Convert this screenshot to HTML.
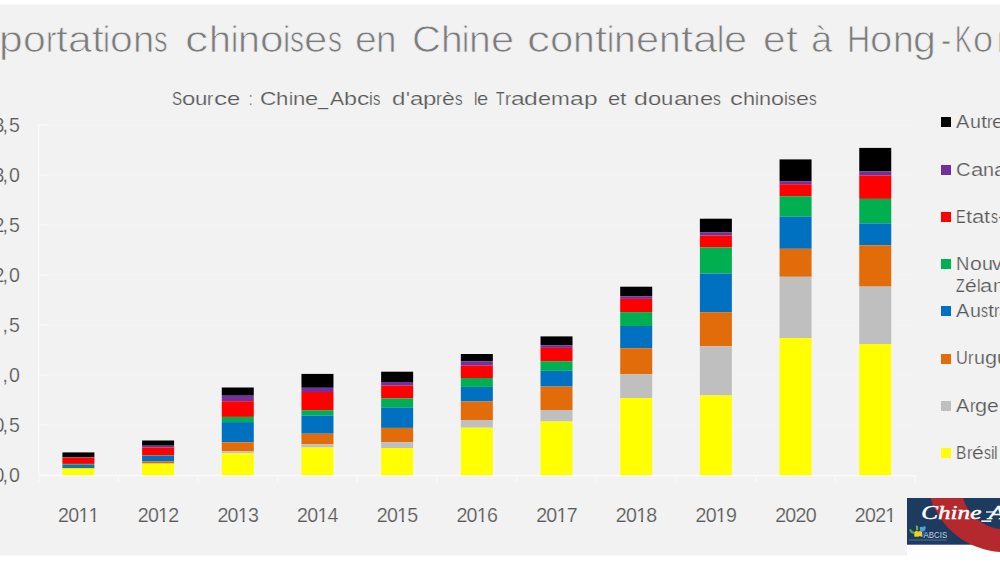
<!DOCTYPE html>
<html><head><meta charset="utf-8"><title>chart</title>
<style>
html,body{margin:0;padding:0;}
body{width:1000px;height:562px;overflow:hidden;background:#ffffff;position:relative;font-family:"Liberation Sans",sans-serif;}
.w{position:absolute;white-space:pre;font-family:"Liberation Sans",sans-serif;height:1em;width:0;}
.w i{position:absolute;top:0;font-style:normal;display:block;transform-origin:0 0;white-space:pre;}
.w i.one{clip-path:polygon(0 0,100% 0,100% 0.69em,0.346em 0.69em,0.346em 1em,0.246em 1em,0.246em 0.69em,0 0.69em);}
.sw{position:absolute;width:9.5px;height:10px;}
#chart{position:absolute;left:0;top:0;}
#wh{position:absolute;left:906.6px;top:544px;width:94px;height:18px;background:#fff;}
#logo{position:absolute;left:907px;top:498px;width:93px;height:64px;overflow:hidden;}
</style></head><body>
<svg id="chart" width="1000" height="562" viewBox="0 0 1000 562">
<rect x="0" y="4.6" width="1000" height="550.8" fill="#f2f2f2"/>
<rect x="38.7" y="124.5" width="876.3" height="1" fill="#f4f4f4"/>
<rect x="38.7" y="124.4" width="9" height="1.2" fill="#fbfbfb"/>
<rect x="38.7" y="174.5" width="876.3" height="1" fill="#f4f4f4"/>
<rect x="38.7" y="174.4" width="9" height="1.2" fill="#fbfbfb"/>
<rect x="38.7" y="224.5" width="876.3" height="1" fill="#f4f4f4"/>
<rect x="38.7" y="224.4" width="9" height="1.2" fill="#fbfbfb"/>
<rect x="38.7" y="274.5" width="876.3" height="1" fill="#f4f4f4"/>
<rect x="38.7" y="274.4" width="9" height="1.2" fill="#fbfbfb"/>
<rect x="38.7" y="324.5" width="876.3" height="1" fill="#f4f4f4"/>
<rect x="38.7" y="324.4" width="9" height="1.2" fill="#fbfbfb"/>
<rect x="38.7" y="374.5" width="876.3" height="1" fill="#f4f4f4"/>
<rect x="38.7" y="374.4" width="9" height="1.2" fill="#fbfbfb"/>
<rect x="38.7" y="424.5" width="876.3" height="1" fill="#f4f4f4"/>
<rect x="38.7" y="424.4" width="9" height="1.2" fill="#fbfbfb"/>
<rect x="38.7" y="474.5" width="876.3" height="1" fill="#f4f4f4"/>
<rect x="38.7" y="474.4" width="9" height="1.2" fill="#fbfbfb"/>
<rect x="38.1" y="125" width="1.3" height="350" fill="#fbfbfb"/>
<rect x="38.7" y="475.1" width="876.9" height="1.2" fill="#fcfcfc"/>
<rect x="38.10" y="475.8" width="1.2" height="6.4" fill="#f9f9f9"/>
<rect x="117.76" y="475.8" width="1.2" height="6.4" fill="#f9f9f9"/>
<rect x="197.42" y="475.8" width="1.2" height="6.4" fill="#f9f9f9"/>
<rect x="277.08" y="475.8" width="1.2" height="6.4" fill="#f9f9f9"/>
<rect x="356.74" y="475.8" width="1.2" height="6.4" fill="#f9f9f9"/>
<rect x="436.40" y="475.8" width="1.2" height="6.4" fill="#f9f9f9"/>
<rect x="516.06" y="475.8" width="1.2" height="6.4" fill="#f9f9f9"/>
<rect x="595.72" y="475.8" width="1.2" height="6.4" fill="#f9f9f9"/>
<rect x="675.38" y="475.8" width="1.2" height="6.4" fill="#f9f9f9"/>
<rect x="755.04" y="475.8" width="1.2" height="6.4" fill="#f9f9f9"/>
<rect x="834.70" y="475.8" width="1.2" height="6.4" fill="#f9f9f9"/>
<rect x="914.36" y="475.8" width="1.2" height="6.4" fill="#f9f9f9"/>
<rect x="62.40" y="452.40" width="32" height="4.90" fill="#000000"/>
<rect x="62.40" y="457.30" width="32" height="0.40" fill="#7030a0"/>
<rect x="62.40" y="457.70" width="32" height="6.20" fill="#ff0000"/>
<rect x="62.40" y="463.90" width="32" height="0.60" fill="#00b050"/>
<rect x="62.40" y="464.50" width="32" height="3.50" fill="#0b78a8"/>
<rect x="62.40" y="468.00" width="32" height="0.50" fill="#e36c0a"/>
<rect x="62.40" y="468.50" width="32" height="6.70" fill="#ffff00"/>
<rect x="142.09" y="440.50" width="32" height="5.20" fill="#000000"/>
<rect x="142.09" y="445.70" width="32" height="1.80" fill="#7030a0"/>
<rect x="142.09" y="447.50" width="32" height="8.00" fill="#ff0000"/>
<rect x="142.09" y="455.50" width="32" height="0.30" fill="#00b050"/>
<rect x="142.09" y="455.80" width="32" height="5.70" fill="#0070c0"/>
<rect x="142.09" y="461.50" width="32" height="2.10" fill="#e36c0a"/>
<rect x="142.09" y="463.60" width="32" height="11.60" fill="#ffff00"/>
<rect x="221.77" y="387.50" width="32" height="8.20" fill="#000000"/>
<rect x="221.77" y="395.70" width="32" height="5.50" fill="#7030a0"/>
<rect x="221.77" y="401.20" width="32" height="15.70" fill="#ff0000"/>
<rect x="221.77" y="416.90" width="32" height="5.20" fill="#00b050"/>
<rect x="221.77" y="422.10" width="32" height="20.20" fill="#0070c0"/>
<rect x="221.77" y="442.30" width="32" height="8.90" fill="#e36c0a"/>
<rect x="221.77" y="451.20" width="32" height="2.10" fill="#bfbfbf"/>
<rect x="221.77" y="453.30" width="32" height="21.90" fill="#ffff00"/>
<rect x="301.46" y="373.90" width="32" height="13.90" fill="#000000"/>
<rect x="301.46" y="387.80" width="32" height="4.20" fill="#7030a0"/>
<rect x="301.46" y="392.00" width="32" height="18.20" fill="#ff0000"/>
<rect x="301.46" y="410.20" width="32" height="5.30" fill="#00b050"/>
<rect x="301.46" y="415.50" width="32" height="18.20" fill="#0070c0"/>
<rect x="301.46" y="433.70" width="32" height="10.60" fill="#e36c0a"/>
<rect x="301.46" y="444.30" width="32" height="3.20" fill="#bfbfbf"/>
<rect x="301.46" y="447.50" width="32" height="27.70" fill="#ffff00"/>
<rect x="381.14" y="371.70" width="32" height="10.30" fill="#000000"/>
<rect x="381.14" y="382.00" width="32" height="3.60" fill="#7030a0"/>
<rect x="381.14" y="385.60" width="32" height="12.80" fill="#ff0000"/>
<rect x="381.14" y="398.40" width="32" height="9.00" fill="#00b050"/>
<rect x="381.14" y="407.40" width="32" height="20.50" fill="#0070c0"/>
<rect x="381.14" y="427.90" width="32" height="14.30" fill="#e36c0a"/>
<rect x="381.14" y="442.20" width="32" height="5.80" fill="#bfbfbf"/>
<rect x="381.14" y="448.00" width="32" height="27.20" fill="#ffff00"/>
<rect x="460.83" y="354.00" width="32" height="7.20" fill="#000000"/>
<rect x="460.83" y="361.20" width="32" height="4.30" fill="#7030a0"/>
<rect x="460.83" y="365.50" width="32" height="12.50" fill="#ff0000"/>
<rect x="460.83" y="378.00" width="32" height="8.90" fill="#00b050"/>
<rect x="460.83" y="386.90" width="32" height="14.60" fill="#0070c0"/>
<rect x="460.83" y="401.50" width="32" height="18.50" fill="#e36c0a"/>
<rect x="460.83" y="420.00" width="32" height="7.70" fill="#bfbfbf"/>
<rect x="460.83" y="427.70" width="32" height="47.50" fill="#ffff00"/>
<rect x="540.51" y="336.40" width="32" height="8.80" fill="#000000"/>
<rect x="540.51" y="345.20" width="32" height="2.70" fill="#7030a0"/>
<rect x="540.51" y="347.90" width="32" height="13.30" fill="#ff0000"/>
<rect x="540.51" y="361.20" width="32" height="9.60" fill="#00b050"/>
<rect x="540.51" y="370.80" width="32" height="15.80" fill="#0070c0"/>
<rect x="540.51" y="386.60" width="32" height="23.40" fill="#e36c0a"/>
<rect x="540.51" y="410.00" width="32" height="11.50" fill="#bfbfbf"/>
<rect x="540.51" y="421.50" width="32" height="53.70" fill="#ffff00"/>
<rect x="620.20" y="286.70" width="32" height="9.50" fill="#000000"/>
<rect x="620.20" y="296.20" width="32" height="2.70" fill="#7030a0"/>
<rect x="620.20" y="298.90" width="32" height="13.20" fill="#ff0000"/>
<rect x="620.20" y="312.10" width="32" height="13.90" fill="#00b050"/>
<rect x="620.20" y="326.00" width="32" height="22.20" fill="#0070c0"/>
<rect x="620.20" y="348.20" width="32" height="26.00" fill="#e36c0a"/>
<rect x="620.20" y="374.20" width="32" height="23.80" fill="#bfbfbf"/>
<rect x="620.20" y="398.00" width="32" height="77.20" fill="#ffff00"/>
<rect x="699.88" y="218.70" width="32" height="13.80" fill="#000000"/>
<rect x="699.88" y="232.50" width="32" height="3.00" fill="#7030a0"/>
<rect x="699.88" y="235.50" width="32" height="12.00" fill="#ff0000"/>
<rect x="699.88" y="247.50" width="32" height="26.10" fill="#00b050"/>
<rect x="699.88" y="273.60" width="32" height="38.60" fill="#0070c0"/>
<rect x="699.88" y="312.20" width="32" height="34.10" fill="#e36c0a"/>
<rect x="699.88" y="346.30" width="32" height="49.10" fill="#bfbfbf"/>
<rect x="699.88" y="395.40" width="32" height="79.80" fill="#ffff00"/>
<rect x="779.56" y="159.40" width="32" height="21.80" fill="#000000"/>
<rect x="779.56" y="181.20" width="32" height="3.00" fill="#7030a0"/>
<rect x="779.56" y="184.20" width="32" height="12.00" fill="#ff0000"/>
<rect x="779.56" y="196.20" width="32" height="20.50" fill="#00b050"/>
<rect x="779.56" y="216.70" width="32" height="32.10" fill="#0070c0"/>
<rect x="779.56" y="248.80" width="32" height="28.00" fill="#e36c0a"/>
<rect x="779.56" y="276.80" width="32" height="61.30" fill="#bfbfbf"/>
<rect x="779.56" y="338.10" width="32" height="137.10" fill="#ffff00"/>
<rect x="859.25" y="147.90" width="32" height="23.60" fill="#000000"/>
<rect x="859.25" y="171.50" width="32" height="4.00" fill="#7030a0"/>
<rect x="859.25" y="175.50" width="32" height="23.40" fill="#ff0000"/>
<rect x="859.25" y="198.90" width="32" height="24.50" fill="#00b050"/>
<rect x="859.25" y="223.40" width="32" height="21.90" fill="#0070c0"/>
<rect x="859.25" y="245.30" width="32" height="41.30" fill="#e36c0a"/>
<rect x="859.25" y="286.60" width="32" height="57.40" fill="#bfbfbf"/>
<rect x="859.25" y="344.00" width="32" height="131.20" fill="#ffff00"/>
</svg>
<div class="w" style="left:-0.85px;top:21.93px;font-size:36px;line-height:36px;color:#7c7c7c;-webkit-text-stroke:0.75px #f2f2f2;"><i style="left:0.00px;transform:scaleX(1.184)">p</i><i style="left:23.71px;transform:scaleX(1.137)">o</i><i style="left:46.49px;transform:scaleX(0.873)">r</i><i style="left:56.95px;transform:scaleX(1.178)">t</i><i style="left:68.74px;transform:scaleX(1.186)">a</i><i style="left:92.49px;transform:scaleX(1.178)">t</i><i style="left:104.27px;transform:scaleX(0.869)">i</i><i style="left:111.23px;transform:scaleX(1.137)">o</i><i style="left:134.00px;transform:scaleX(1.059)">n</i><i style="left:155.21px;transform:scaleX(0.749)">s</i></div>
<div class="w" style="left:185.45px;top:21.93px;font-size:36px;line-height:36px;color:#7c7c7c;-webkit-text-stroke:0.75px #f2f2f2;"><i style="left:0.00px;transform:scaleX(1.290)">c</i><i style="left:23.23px;transform:scaleX(1.094)">h</i><i style="left:45.13px;transform:scaleX(0.898)">i</i><i style="left:52.31px;transform:scaleX(1.094)">n</i><i style="left:74.21px;transform:scaleX(1.175)">o</i><i style="left:97.72px;transform:scaleX(0.898)">i</i><i style="left:104.90px;transform:scaleX(0.774)">s</i><i style="left:118.83px;transform:scaleX(1.166)">e</i><i style="left:142.17px;transform:scaleX(0.774)">s</i></div>
<div class="w" style="left:354.65px;top:21.93px;font-size:36px;line-height:36px;color:#7c7c7c;-webkit-text-stroke:0.75px #f2f2f2;"><i style="left:0.00px;transform:scaleX(1.087)">e</i><i style="left:21.77px;transform:scaleX(1.021)">n</i></div>
<div class="w" style="left:411.65px;top:21.93px;font-size:36px;line-height:36px;color:#7c7c7c;-webkit-text-stroke:0.75px #f2f2f2;"><i style="left:0.00px;transform:scaleX(1.111)">C</i><i style="left:28.88px;transform:scaleX(1.082)">h</i><i style="left:50.55px;transform:scaleX(0.888)">i</i><i style="left:57.65px;transform:scaleX(1.082)">n</i><i style="left:79.32px;transform:scaleX(1.153)">e</i></div>
<div class="w" style="left:527.15px;top:21.93px;font-size:36px;line-height:36px;color:#7c7c7c;-webkit-text-stroke:0.75px #f2f2f2;"><i style="left:0.00px;transform:scaleX(1.278)">c</i><i style="left:23.01px;transform:scaleX(1.163)">o</i><i style="left:46.30px;transform:scaleX(1.083)">n</i><i style="left:67.99px;transform:scaleX(1.205)">t</i><i style="left:80.04px;transform:scaleX(0.889)">i</i><i style="left:87.15px;transform:scaleX(1.083)">n</i><i style="left:108.84px;transform:scaleX(1.154)">e</i><i style="left:131.95px;transform:scaleX(1.083)">n</i><i style="left:153.64px;transform:scaleX(1.205)">t</i><i style="left:165.70px;transform:scaleX(1.213)">a</i><i style="left:189.98px;transform:scaleX(0.889)">l</i><i style="left:197.09px;transform:scaleX(1.154)">e</i></div>
<div class="w" style="left:763.40px;top:21.93px;font-size:36px;line-height:36px;color:#7c7c7c;-webkit-text-stroke:0.75px #f2f2f2;"><i style="left:0.00px;transform:scaleX(1.131)">e</i><i style="left:22.64px;transform:scaleX(1.181)">t</i></div>
<div class="w" style="left:810.65px;top:21.93px;font-size:36px;line-height:36px;color:#7c7c7c;-webkit-text-stroke:0.75px #f2f2f2;"><i style="left:0.00px;transform:scaleX(1.063)">à</i></div>
<div class="w" style="left:847.25px;top:21.93px;font-size:36px;line-height:36px;color:#7c7c7c;-webkit-text-stroke:0.75px #f2f2f2;"><i style="left:0.00px;transform:scaleX(0.893)">H</i><i style="left:23.22px;transform:scaleX(1.112)">o</i><i style="left:45.49px;transform:scaleX(1.036)">n</i><i style="left:66.23px;transform:scaleX(1.143)">g</i></div>
<div class="w" style="left:940.65px;top:21.93px;font-size:36px;line-height:36px;color:#7c7c7c;-webkit-text-stroke:0.75px #f2f2f2;"><i style="left:0.00px;transform:scaleX(0.843)">-</i></div>
<div class="w" style="left:954.65px;top:21.93px;font-size:36px;line-height:36px;color:#7c7c7c;-webkit-text-stroke:0.75px #f2f2f2;"><i style="left:0.00px;transform:scaleX(0.695)">K</i></div>
<div class="w" style="left:973.25px;top:21.93px;font-size:36px;line-height:36px;color:#7c7c7c;-webkit-text-stroke:0.75px #f2f2f2;"><i style="left:0.00px;transform:scaleX(1.004)">o</i></div>
<div class="w" style="left:997.25px;top:21.93px;font-size:36px;line-height:36px;color:#7c7c7c;-webkit-text-stroke:0.75px #f2f2f2;"><i style="left:0.00px;transform:scaleX(0.904)">n</i></div>
<div class="w" style="left:171.60px;top:89.32px;font-size:19px;line-height:19px;color:#595959;-webkit-text-stroke:0.2px #f2f2f2;"><i style="left:0.00px;transform:scaleX(0.799)">S</i><i style="left:10.13px;transform:scaleX(1.260)">o</i><i style="left:23.45px;transform:scaleX(1.170)">u</i><i style="left:35.81px;transform:scaleX(0.967)">r</i><i style="left:41.93px;transform:scaleX(1.385)">c</i><i style="left:55.09px;transform:scaleX(1.251)">e</i></div>
<div class="w" style="left:249.30px;top:89.32px;font-size:19px;line-height:19px;color:#595959;-webkit-text-stroke:0.2px #f2f2f2;"><i style="left:0.00px;transform:scaleX(0.644)">:</i></div>
<div class="w" style="left:260.00px;top:89.32px;font-size:19px;line-height:19px;color:#595959;-webkit-text-stroke:0.2px #f2f2f2;"><i style="left:0.00px;transform:scaleX(1.196)">C</i><i style="left:16.41px;transform:scaleX(1.165)">h</i><i style="left:28.73px;transform:scaleX(0.956)">i</i><i style="left:32.76px;transform:scaleX(1.165)">n</i><i style="left:45.08px;transform:scaleX(1.242)">e</i><i style="left:58.20px;transform:scaleX(0.955)">_</i></div>
<div class="w" style="left:329.90px;top:89.32px;font-size:19px;line-height:19px;color:#595959;-webkit-text-stroke:0.2px #f2f2f2;"><i style="left:0.00px;transform:scaleX(1.110)">A</i><i style="left:14.06px;transform:scaleX(1.227)">b</i><i style="left:27.03px;transform:scaleX(1.294)">c</i><i style="left:39.32px;transform:scaleX(0.901)">i</i><i style="left:43.13px;transform:scaleX(0.776)">s</i></div>
<div class="w" style="left:392.30px;top:89.32px;font-size:19px;line-height:19px;color:#595959;-webkit-text-stroke:0.2px #f2f2f2;"><i style="left:0.00px;transform:scaleX(1.269)">d</i><i style="left:13.41px;transform:scaleX(1.068)">'</i><i style="left:17.28px;transform:scaleX(1.265)">a</i><i style="left:30.65px;transform:scaleX(1.263)">p</i><i style="left:43.99px;transform:scaleX(0.931)">r</i><i style="left:49.89px;transform:scaleX(1.204)">è</i><i style="left:62.61px;transform:scaleX(0.799)">s</i></div>
<div class="w" style="left:473.90px;top:89.32px;font-size:19px;line-height:19px;color:#595959;-webkit-text-stroke:0.2px #f2f2f2;"><i style="left:0.00px;transform:scaleX(0.814)">l</i><i style="left:3.44px;transform:scaleX(1.057)">e</i></div>
<div class="w" style="left:496.20px;top:89.32px;font-size:19px;line-height:19px;color:#595959;-webkit-text-stroke:0.2px #f2f2f2;"><i style="left:0.00px;transform:scaleX(0.735)">T</i><i style="left:8.53px;transform:scaleX(0.953)">r</i><i style="left:14.56px;transform:scaleX(1.295)">a</i><i style="left:28.24px;transform:scaleX(1.298)">d</i><i style="left:41.96px;transform:scaleX(1.232)">e</i><i style="left:54.98px;transform:scaleX(1.187)">m</i><i style="left:73.77px;transform:scaleX(1.295)">a</i><i style="left:87.45px;transform:scaleX(1.293)">p</i></div>
<div class="w" style="left:607.80px;top:89.32px;font-size:19px;line-height:19px;color:#595959;-webkit-text-stroke:0.2px #f2f2f2;"><i style="left:0.00px;transform:scaleX(1.157)">e</i><i style="left:12.22px;transform:scaleX(1.208)">t</i></div>
<div class="w" style="left:634.30px;top:89.32px;font-size:19px;line-height:19px;color:#595959;-webkit-text-stroke:0.2px #f2f2f2;"><i style="left:0.00px;transform:scaleX(1.310)">d</i><i style="left:13.85px;transform:scaleX(1.253)">o</i><i style="left:27.09px;transform:scaleX(1.163)">u</i><i style="left:39.38px;transform:scaleX(1.307)">a</i><i style="left:53.19px;transform:scaleX(1.167)">n</i><i style="left:65.52px;transform:scaleX(1.243)">e</i><i style="left:78.66px;transform:scaleX(0.826)">s</i></div>
<div class="w" style="left:730.30px;top:89.32px;font-size:19px;line-height:19px;color:#595959;-webkit-text-stroke:0.2px #f2f2f2;"><i style="left:0.00px;transform:scaleX(1.347)">c</i><i style="left:12.80px;transform:scaleX(1.142)">h</i><i style="left:24.86px;transform:scaleX(0.937)">i</i><i style="left:28.82px;transform:scaleX(1.142)">n</i><i style="left:40.88px;transform:scaleX(1.226)">o</i><i style="left:53.84px;transform:scaleX(0.937)">i</i><i style="left:57.79px;transform:scaleX(0.808)">s</i><i style="left:65.47px;transform:scaleX(1.217)">e</i><i style="left:78.33px;transform:scaleX(0.808)">s</i></div>
<div class="w" style="left:-6.04px;top:115.71px;font-size:19.6px;line-height:19.6px;color:#595959;-webkit-text-stroke:0.2px #f2f2f2;"><i style="left:-0.36px;transform:scaleX(1.000)">3</i><i style="left:8.57px;transform:scaleX(1.000)">,</i><i style="left:14.95px;transform:scaleX(1.000)">5</i></div>
<div class="w" style="left:-6.04px;top:165.71px;font-size:19.6px;line-height:19.6px;color:#595959;-webkit-text-stroke:0.2px #f2f2f2;"><i style="left:-0.36px;transform:scaleX(1.000)">3</i><i style="left:8.57px;transform:scaleX(1.000)">,</i><i style="left:14.95px;transform:scaleX(1.000)">0</i></div>
<div class="w" style="left:-6.04px;top:215.71px;font-size:19.6px;line-height:19.6px;color:#595959;-webkit-text-stroke:0.2px #f2f2f2;"><i style="left:-0.36px;transform:scaleX(1.000)">2</i><i style="left:8.57px;transform:scaleX(1.000)">,</i><i style="left:14.95px;transform:scaleX(1.000)">5</i></div>
<div class="w" style="left:-6.04px;top:265.71px;font-size:19.6px;line-height:19.6px;color:#595959;-webkit-text-stroke:0.2px #f2f2f2;"><i style="left:-0.36px;transform:scaleX(1.000)">2</i><i style="left:8.57px;transform:scaleX(1.000)">,</i><i style="left:14.95px;transform:scaleX(1.000)">0</i></div>
<div class="w" style="left:4.14px;top:315.71px;font-size:19.6px;line-height:19.6px;color:#595959;-webkit-text-stroke:0.2px #f2f2f2;"><i style="left:-1.60px;transform:scaleX(1.000)">,</i><i style="left:4.77px;transform:scaleX(1.000)">5</i></div>
<div class="w" style="left:4.14px;top:365.71px;font-size:19.6px;line-height:19.6px;color:#595959;-webkit-text-stroke:0.2px #f2f2f2;"><i style="left:-1.60px;transform:scaleX(1.000)">,</i><i style="left:4.77px;transform:scaleX(1.000)">0</i></div>
<div class="w" style="left:-6.04px;top:415.71px;font-size:19.6px;line-height:19.6px;color:#595959;-webkit-text-stroke:0.2px #f2f2f2;"><i style="left:-0.36px;transform:scaleX(1.000)">0</i><i style="left:8.57px;transform:scaleX(1.000)">,</i><i style="left:14.95px;transform:scaleX(1.000)">5</i></div>
<div class="w" style="left:-6.04px;top:465.71px;font-size:19.6px;line-height:19.6px;color:#595959;-webkit-text-stroke:0.2px #f2f2f2;"><i style="left:-0.36px;transform:scaleX(1.000)">0</i><i style="left:8.57px;transform:scaleX(1.000)">,</i><i style="left:14.95px;transform:scaleX(1.000)">0</i></div>
<div class="w" style="left:58.45px;top:505.61px;font-size:19.6px;line-height:19.6px;color:#595959;-webkit-text-stroke:0.2px #f2f2f2;"><i style="left:-0.36px;transform:scaleX(1.000)">2</i><i style="left:9.81px;transform:scaleX(1.000)">0</i><i class=one style="left:19.98px;transform:scaleX(1.000)">1</i><i class=one style="left:30.15px;transform:scaleX(1.000)">1</i></div>
<div class="w" style="left:138.12px;top:505.61px;font-size:19.6px;line-height:19.6px;color:#595959;-webkit-text-stroke:0.2px #f2f2f2;"><i style="left:-0.36px;transform:scaleX(1.000)">2</i><i style="left:9.81px;transform:scaleX(1.000)">0</i><i class=one style="left:19.98px;transform:scaleX(1.000)">1</i><i style="left:30.15px;transform:scaleX(1.000)">2</i></div>
<div class="w" style="left:217.80px;top:505.61px;font-size:19.6px;line-height:19.6px;color:#595959;-webkit-text-stroke:0.2px #f2f2f2;"><i style="left:-0.36px;transform:scaleX(1.000)">2</i><i style="left:9.81px;transform:scaleX(1.000)">0</i><i class=one style="left:19.98px;transform:scaleX(1.000)">1</i><i style="left:30.15px;transform:scaleX(1.000)">3</i></div>
<div class="w" style="left:297.47px;top:505.61px;font-size:19.6px;line-height:19.6px;color:#595959;-webkit-text-stroke:0.2px #f2f2f2;"><i style="left:-0.36px;transform:scaleX(1.000)">2</i><i style="left:9.81px;transform:scaleX(1.000)">0</i><i class=one style="left:19.98px;transform:scaleX(1.000)">1</i><i style="left:30.15px;transform:scaleX(1.000)">4</i></div>
<div class="w" style="left:377.15px;top:505.61px;font-size:19.6px;line-height:19.6px;color:#595959;-webkit-text-stroke:0.2px #f2f2f2;"><i style="left:-0.36px;transform:scaleX(1.000)">2</i><i style="left:9.81px;transform:scaleX(1.000)">0</i><i class=one style="left:19.98px;transform:scaleX(1.000)">1</i><i style="left:30.15px;transform:scaleX(1.000)">5</i></div>
<div class="w" style="left:456.82px;top:505.61px;font-size:19.6px;line-height:19.6px;color:#595959;-webkit-text-stroke:0.2px #f2f2f2;"><i style="left:-0.36px;transform:scaleX(1.000)">2</i><i style="left:9.81px;transform:scaleX(1.000)">0</i><i class=one style="left:19.98px;transform:scaleX(1.000)">1</i><i style="left:30.15px;transform:scaleX(1.000)">6</i></div>
<div class="w" style="left:536.50px;top:505.61px;font-size:19.6px;line-height:19.6px;color:#595959;-webkit-text-stroke:0.2px #f2f2f2;"><i style="left:-0.36px;transform:scaleX(1.000)">2</i><i style="left:9.81px;transform:scaleX(1.000)">0</i><i class=one style="left:19.98px;transform:scaleX(1.000)">1</i><i style="left:30.15px;transform:scaleX(1.000)">7</i></div>
<div class="w" style="left:616.18px;top:505.61px;font-size:19.6px;line-height:19.6px;color:#595959;-webkit-text-stroke:0.2px #f2f2f2;"><i style="left:-0.36px;transform:scaleX(1.000)">2</i><i style="left:9.81px;transform:scaleX(1.000)">0</i><i class=one style="left:19.98px;transform:scaleX(1.000)">1</i><i style="left:30.15px;transform:scaleX(1.000)">8</i></div>
<div class="w" style="left:695.85px;top:505.61px;font-size:19.6px;line-height:19.6px;color:#595959;-webkit-text-stroke:0.2px #f2f2f2;"><i style="left:-0.36px;transform:scaleX(1.000)">2</i><i style="left:9.81px;transform:scaleX(1.000)">0</i><i class=one style="left:19.98px;transform:scaleX(1.000)">1</i><i style="left:30.15px;transform:scaleX(1.000)">9</i></div>
<div class="w" style="left:775.52px;top:505.61px;font-size:19.6px;line-height:19.6px;color:#595959;-webkit-text-stroke:0.2px #f2f2f2;"><i style="left:-0.36px;transform:scaleX(1.000)">2</i><i style="left:9.81px;transform:scaleX(1.000)">0</i><i style="left:19.98px;transform:scaleX(1.000)">2</i><i style="left:30.15px;transform:scaleX(1.000)">0</i></div>
<div class="w" style="left:855.20px;top:505.61px;font-size:19.6px;line-height:19.6px;color:#595959;-webkit-text-stroke:0.2px #f2f2f2;"><i style="left:-0.36px;transform:scaleX(1.000)">2</i><i style="left:9.81px;transform:scaleX(1.000)">0</i><i style="left:19.98px;transform:scaleX(1.000)">2</i><i class=one style="left:30.15px;transform:scaleX(1.000)">1</i></div>
<div class="w" style="left:956.40px;top:113.46px;font-size:18px;line-height:18px;color:#595959;-webkit-text-stroke:0.2px #f2f2f2;"><i style="left:0.00px;transform:scaleX(1.109)">A</i><i style="left:13.32px;transform:scaleX(1.093)">u</i><i style="left:24.26px;transform:scaleX(1.220)">t</i><i style="left:30.37px;transform:scaleX(0.904)">r</i><i style="left:35.78px;transform:scaleX(1.169)">e</i><i style="left:47.48px;transform:scaleX(0.776)">s</i></div>
<div class="sw" style="left:941.2px;top:117.4px;background:#000000"></div>
<div class="w" style="left:956.40px;top:160.76px;font-size:18px;line-height:18px;color:#595959;-webkit-text-stroke:0.2px #f2f2f2;"><i style="left:0.00px;transform:scaleX(1.126)">C</i><i style="left:14.63px;transform:scaleX(1.228)">a</i><i style="left:26.93px;transform:scaleX(1.097)">n</i><i style="left:37.91px;transform:scaleX(1.228)">a</i><i style="left:50.20px;transform:scaleX(1.232)">d</i><i style="left:62.53px;transform:scaleX(1.228)">a</i></div>
<div class="sw" style="left:941.2px;top:165.1px;background:#7030a0"></div>
<div class="w" style="left:956.40px;top:207.86px;font-size:18px;line-height:18px;color:#595959;-webkit-text-stroke:0.2px #f2f2f2;"><i style="left:0.00px;transform:scaleX(0.804)">E</i><i style="left:9.65px;transform:scaleX(1.220)">t</i><i style="left:15.75px;transform:scaleX(1.228)">a</i><i style="left:28.04px;transform:scaleX(1.220)">t</i><i style="left:34.15px;transform:scaleX(0.776)">s</i><i style="left:41.13px;transform:scaleX(0.997)">-</i><i style="left:47.11px;transform:scaleX(0.907)">U</i><i style="left:58.90px;transform:scaleX(1.097)">n</i><i style="left:69.88px;transform:scaleX(0.900)">i</i><i style="left:73.48px;transform:scaleX(0.776)">s</i></div>
<div class="sw" style="left:941.2px;top:212.0px;background:#ff0000"></div>
<div class="w" style="left:956.40px;top:254.86px;font-size:18px;line-height:18px;color:#595959;-webkit-text-stroke:0.2px #f2f2f2;"><i style="left:0.00px;transform:scaleX(1.025)">N</i><i style="left:13.32px;transform:scaleX(1.178)">o</i><i style="left:25.11px;transform:scaleX(1.093)">u</i><i style="left:36.05px;transform:scaleX(1.108)">v</i><i style="left:46.03px;transform:scaleX(1.169)">e</i><i style="left:57.73px;transform:scaleX(0.900)">l</i><i style="left:61.33px;transform:scaleX(0.900)">l</i><i style="left:64.93px;transform:scaleX(1.169)">e</i><i style="left:76.63px;transform:scaleX(0.997)">-</i></div>
<div class="sw" style="left:941.2px;top:259.4px;background:#00b050"></div>
<div class="w" style="left:956.40px;top:276.86px;font-size:18px;line-height:18px;color:#595959;-webkit-text-stroke:0.2px #f2f2f2;"><i style="left:0.00px;transform:scaleX(0.786)">Z</i><i style="left:8.64px;transform:scaleX(1.169)">é</i><i style="left:20.34px;transform:scaleX(0.900)">l</i><i style="left:23.94px;transform:scaleX(1.228)">a</i><i style="left:36.23px;transform:scaleX(1.097)">n</i><i style="left:47.21px;transform:scaleX(1.232)">d</i><i style="left:59.54px;transform:scaleX(1.169)">e</i></div>
<div class="w" style="left:956.40px;top:301.86px;font-size:18px;line-height:18px;color:#595959;-webkit-text-stroke:0.2px #f2f2f2;"><i style="left:0.00px;transform:scaleX(1.109)">A</i><i style="left:13.32px;transform:scaleX(1.093)">u</i><i style="left:24.26px;transform:scaleX(0.776)">s</i><i style="left:31.25px;transform:scaleX(1.220)">t</i><i style="left:37.35px;transform:scaleX(0.904)">r</i><i style="left:42.77px;transform:scaleX(1.228)">a</i><i style="left:55.06px;transform:scaleX(0.900)">l</i><i style="left:58.66px;transform:scaleX(0.900)">i</i><i style="left:62.26px;transform:scaleX(1.169)">e</i></div>
<div class="sw" style="left:941.2px;top:306.3px;background:#0070c0"></div>
<div class="w" style="left:956.40px;top:348.96px;font-size:18px;line-height:18px;color:#595959;-webkit-text-stroke:0.2px #f2f2f2;"><i style="left:0.00px;transform:scaleX(0.907)">U</i><i style="left:11.79px;transform:scaleX(0.904)">r</i><i style="left:17.21px;transform:scaleX(1.093)">u</i><i style="left:28.15px;transform:scaleX(1.210)">g</i><i style="left:40.27px;transform:scaleX(1.093)">u</i><i style="left:51.21px;transform:scaleX(1.228)">a</i><i style="left:63.50px;transform:scaleX(1.072)">y</i></div>
<div class="sw" style="left:941.2px;top:353.7px;background:#e36c0a"></div>
<div class="w" style="left:956.40px;top:396.96px;font-size:18px;line-height:18px;color:#595959;-webkit-text-stroke:0.2px #f2f2f2;"><i style="left:0.00px;transform:scaleX(1.109)">A</i><i style="left:13.32px;transform:scaleX(0.904)">r</i><i style="left:18.74px;transform:scaleX(1.210)">g</i><i style="left:30.85px;transform:scaleX(1.169)">e</i><i style="left:42.55px;transform:scaleX(1.097)">n</i><i style="left:53.53px;transform:scaleX(1.220)">t</i><i style="left:59.63px;transform:scaleX(0.900)">i</i><i style="left:63.23px;transform:scaleX(1.097)">n</i><i style="left:74.21px;transform:scaleX(1.169)">e</i></div>
<div class="sw" style="left:941.2px;top:401.3px;background:#bfbfbf"></div>
<div class="w" style="left:956.40px;top:443.66px;font-size:18px;line-height:18px;color:#595959;-webkit-text-stroke:0.2px #f2f2f2;"><i style="left:0.00px;transform:scaleX(0.861)">B</i><i style="left:10.33px;transform:scaleX(0.904)">r</i><i style="left:15.75px;transform:scaleX(1.169)">é</i><i style="left:27.45px;transform:scaleX(0.776)">s</i><i style="left:34.43px;transform:scaleX(0.900)">i</i><i style="left:38.03px;transform:scaleX(0.900)">l</i></div>
<div class="sw" style="left:941.2px;top:448.4px;background:#ffff00"></div>
<div id="wh"></div>
<svg id="logo" width="93" height="64" viewBox="907 498 93 64">
<rect x="907" y="498" width="93" height="46.7" fill="#1d3a5f"/>
<path fill="#b3292e" fill-rule="evenodd" d="M 926.9 474.7 a 77.3 77.3 0 1 0 154.6 0 a 77.3 77.3 0 1 0 -154.6 0 Z M 961.4 486 a 43.2 43.2 0 1 0 86.4 0 a 43.2 43.2 0 1 0 -86.4 0 Z"/>
<g font-family="Liberation Serif" font-style="italic" font-weight="normal" font-size="18.5" fill="#ffffff" stroke="#ffffff" stroke-width="0.45">
<text x="921.3" y="518.8" textLength="60" lengthAdjust="spacingAndGlyphs">Chine</text>
<text x="988.5" y="518.8" textLength="17" lengthAdjust="spacingAndGlyphs">A</text>
</g>
<rect x="981.3" y="520.4" width="10" height="1.5" fill="#ffffff"/>
<rect x="986" y="511.4" width="8" height="1.2" fill="#ffffff"/>
<!-- abcis mark -->
<path d="M909.4 529.2 q1.4 -0.4 2.2 0.8 q1.4 1.8 3.2 1.8 l-0.4 2 q-2.6 0.2 -4 -1.4 q-1.2 -1.4 -1 -3.2z" fill="#4fa64a"/>
<path d="M915.8 525.6 q1.6 -0.4 2 0.6 l0.4 4 l-2 0.4z" fill="#6fb544"/>
<path d="M914.4 532 q2 -1.8 4 -0.6 q2.2 -1 3.6 0.4 l0.6 4.8 q-1.6 0.6 -2.6 -0.6 q-1.4 1.2 -3.4 0.6 q-1.6 0.6 -2.4 -0.4z" fill="#f2d21f"/>
<path d="M919.8 527 q1.4 -0.8 2.6 0.2 q1.6 -1.6 3.2 -0.6 q0.6 2 -0.8 3.8 q-1.6 1.6 -3.8 1.4 q-1.6 -1.8 -1.2 -4.8z" fill="#4aa3dc"/>
<path d="M922.4 531.8 l2.6 -1.4 l0.2 6.4 l-1.8 0.4z" fill="#2458a6"/>
<text x="923.6" y="537.5" font-family="Liberation Sans" font-size="8.6" fill="#c5d3df" textLength="23.6" lengthAdjust="spacingAndGlyphs">ABCIS</text>
<rect x="909" y="539.3" width="37.5" height="1.4" fill="#4f6f9f" opacity="0.75"/>
</svg>

</body></html>
